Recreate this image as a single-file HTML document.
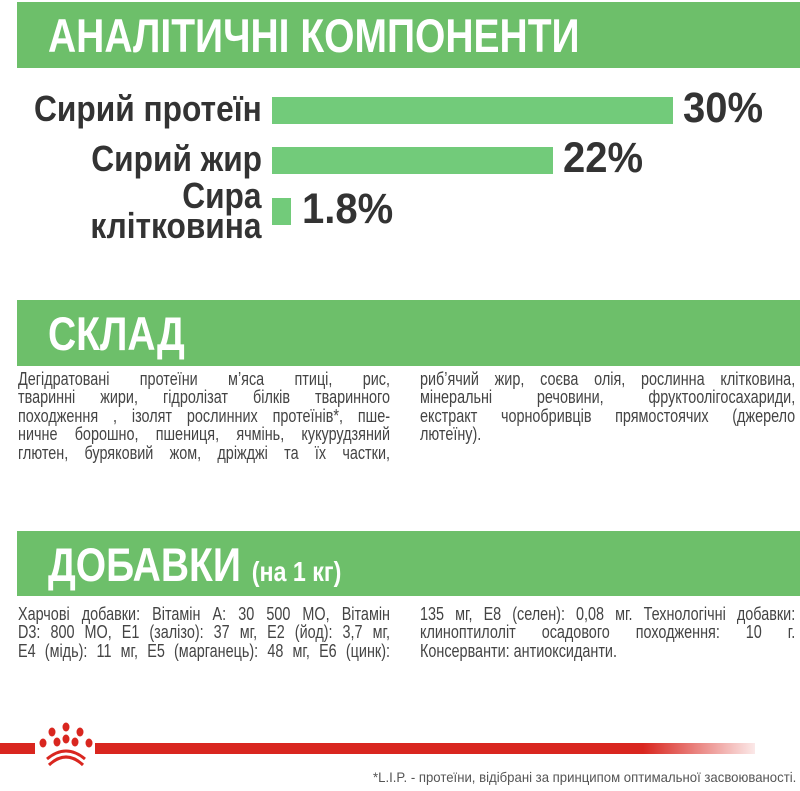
<!DOCTYPE html>
<html><head><meta charset="utf-8"><style>
body{margin:0;width:800px;height:791px;background:#fff;position:relative;overflow:hidden;font-family:"Liberation Sans",sans-serif;color:#333}
.band{position:absolute;left:17px;right:0;background:#6dbf6a}
.t{position:absolute;color:#fff;font-weight:bold;white-space:nowrap;transform-origin:left top}
.lbl{position:absolute;font-weight:bold;color:#333;font-size:36px;white-space:nowrap;text-align:right;transform:scaleX(0.88);transform-origin:right top}
.bar{position:absolute;background:#72cb7a}
.pct{position:absolute;font-weight:bold;color:#333;font-size:43px;white-space:nowrap;transform:scaleX(0.93);transform-origin:left top}
.ln{position:absolute;font-size:18px;white-space:nowrap;text-align:justify;text-align-last:justify;color:#444;line-height:18px;height:18px;transform:scaleX(0.8);transform-origin:left top}
.L{left:18px;width:465px}
.R{left:420px;width:469px}
.nl{text-align-last:left}
</style></head><body>
<div class="band" style="top:2px;height:66px"></div>
<div class="t" style="left:48px;top:8px;font-size:47px;transform:scaleX(0.83)">АНАЛІТИЧНІ КОМПОНЕНТИ</div>

<div class="lbl" style="right:538px;top:88px">Сирий протеїн</div>
<div class="bar" style="left:272px;top:97px;width:401px;height:27px"></div>
<div class="pct" style="left:683px;top:84px">30%</div>
<div class="lbl" style="right:538px;top:138px">Сирий жир</div>
<div class="bar" style="left:272px;top:147px;width:281px;height:27px"></div>
<div class="pct" style="left:563px;top:134px">22%</div>
<div class="lbl" style="right:538px;top:181px;line-height:30px">Сира<br>клітковина</div>
<div class="bar" style="left:272px;top:198px;width:19px;height:27px"></div>
<div class="pct" style="left:302px;top:185px">1.8%</div>

<div class="band" style="top:300px;height:66px"></div>
<div class="t" style="left:48px;top:306px;font-size:47px;transform:scaleX(0.83)">СКЛАД</div>
<div class="ln L" style="top:370px">Дегідратовані протеїни м’яса птиці, рис,</div>
<div class="ln L" style="top:388px">тваринні жири, гідролізат білків тваринного</div>
<div class="ln L" style="top:407px">походження , ізолят рослинних протеїнів*, пше-</div>
<div class="ln L" style="top:425px">ничне борошно, пшениця, ячмінь, кукурудзяний</div>
<div class="ln L" style="top:444px">глютен, буряковий жом, дріжджі та їх частки,</div>
<div class="ln R" style="top:370px">риб’ячий жир, соєва олія, рослинна клітковина,</div>
<div class="ln R" style="top:388px">мінеральні речовини, фруктоолігосахариди,</div>
<div class="ln R" style="top:407px">екстракт чорнобривців прямостоячих (джерело</div>
<div class="ln R nl" style="top:425px">лютеїну).</div>

<div class="band" style="top:531px;height:65px"></div>
<div class="t" style="left:48px;top:537px;font-size:47px;transform:scaleX(0.83)">ДОБАВКИ <span style="font-size:28px">(на 1 кг)</span></div>
<div class="ln L" style="top:605px">Харчові добавки: Вітамін А: 30 500 МО, Вітамін</div>
<div class="ln L" style="top:623px">D3: 800 МО, Е1 (залізо): 37 мг, Е2 (йод): 3,7 мг,</div>
<div class="ln L" style="top:642px">Е4 (мідь): 11 мг, Е5 (марганець): 48 мг, Е6 (цинк):</div>
<div class="ln R" style="top:605px">135 мг, Е8 (селен): 0,08 мг. Технологічні добавки:</div>
<div class="ln R" style="top:623px">клиноптилоліт осадового походження: 10 г.</div>
<div class="ln R nl" style="top:642px">Консерванти: антиоксиданти.</div>

<div style="position:absolute;left:0;top:743px;width:35px;height:11px;background:#d9261f"></div>
<div style="position:absolute;left:95px;top:743px;width:660px;height:11px;background:linear-gradient(to right,#d9261f 0,#d9261f 83%,rgba(217,38,31,0.1) 100%)"></div>
<svg style="position:absolute;left:35px;top:715px" width="62" height="55" viewBox="0 0 62 55">
<g fill="#d9261f">
<ellipse cx="17" cy="17" rx="3.5" ry="4.5"/><ellipse cx="31" cy="12" rx="3.5" ry="4.5"/><ellipse cx="45" cy="17" rx="3.5" ry="4.5"/>
<ellipse cx="8" cy="28" rx="3.5" ry="4.5"/><ellipse cx="22" cy="27" rx="3.5" ry="4.5"/><ellipse cx="31" cy="24" rx="3.5" ry="4.5"/><ellipse cx="40" cy="27" rx="3.5" ry="4.5"/><ellipse cx="54" cy="28" rx="3.5" ry="4.5"/>
</g>
<path d="M12 44 Q31 28 50 44" stroke="#d9261f" stroke-width="3" fill="none"/>
<path d="M14 50 Q31 34 48 50" stroke="#d9261f" stroke-width="3" fill="none"/>
</svg>
<div style="position:absolute;right:4px;top:769px;font-size:14px;color:#555;white-space:nowrap;transform:scaleX(0.94);transform-origin:right top">*L.I.P. - протеїни, відібрані за принципом оптимальної засвоюваності.</div>
</body></html>
